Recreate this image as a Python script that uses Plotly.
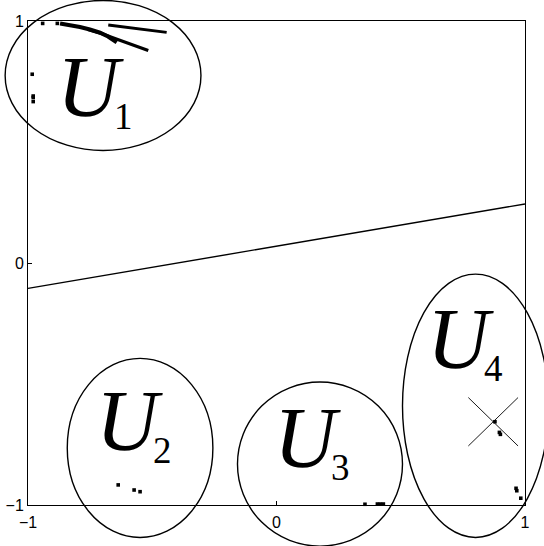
import plotly.graph_objects as go

# Separating line y = a*x + b, drawn across the square
line_x = [-1.0, 1.0]
line_y = [-0.105, 0.244]

# Sample points (dense arcs near the top-left corner)
arc_a_x = [-0.871, -0.831, -0.791, -0.751, -0.710, -0.678, -0.643]
arc_a_y = [0.990, 0.984, 0.975, 0.965, 0.952, 0.936, 0.912]
arc_b_x = [-0.759, -0.710, -0.650, -0.590, -0.516]
arc_b_y = [0.965, 0.950, 0.928, 0.905, 0.878]
arc_c_x = [-0.677, -0.561, -0.442]
arc_c_y = [0.983, 0.969, 0.953]

# Isolated sample points
dot_x = [-0.941, -0.882, -0.983, -0.979, -0.979, -0.979,
         -0.637, -0.573, -0.549,
         0.356, 0.406, 0.418, 0.430,
         0.879, 0.897, 0.901, 0.964, 0.967, 0.983]
dot_y = [0.990, 0.990, 0.780, 0.690, 0.684, 0.667,
         -0.917, -0.938, -0.945,
         -0.997, -0.996, -0.996, -0.996,
         -0.656, -0.700, -0.708, -0.931, -0.941, -0.972]

# Marked point (cross) and its half size
cross_x = 0.872
cross_y = -0.656
cross_half = 0.10

# Regions U1..U4: centre and semi-axes in data units
region_names = ["1", "2", "3", "4"]
region_cx = [-0.698, -0.549, 0.175, 0.801]
region_cy = [0.775, -0.764, -0.831, -0.590]
region_rx = [0.394, 0.293, 0.332, 0.294]
region_ry = [0.310, 0.370, 0.339, 0.544]

# Label anchor points for the region names
label_x = [-0.730, -0.574, 0.144, 0.759]
label_y = [0.722, -0.657, -0.726, -0.319]

tick_vals = [-1, 0, 1]
tick_text = ["\u22121", "0", "1"]

fig = go.Figure()

fig.add_trace(go.Scatter(x=line_x, y=line_y, mode="lines",
                         line=dict(color="black", width=1.4), hoverinfo="skip"))

for ax_, ay_, w in [(arc_a_x, arc_a_y, 4.0), (arc_b_x, arc_b_y, 3.2), (arc_c_x, arc_c_y, 3.0)]:
    fig.add_trace(go.Scatter(x=ax_, y=ay_, mode="lines",
                             line=dict(color="black", width=w),
                             hoverinfo="skip"))

fig.add_trace(go.Scatter(x=dot_x, y=dot_y, mode="markers",
                         marker=dict(color="black", size=3.6, symbol="square"),
                         cliponaxis=False, hoverinfo="skip"))

fig.add_trace(go.Scatter(
    x=[cross_x - cross_half, cross_x + cross_half, None, cross_x - cross_half, cross_x + cross_half],
    y=[cross_y + cross_half, cross_y - cross_half, None, cross_y - cross_half, cross_y + cross_half],
    mode="lines", line=dict(color="black", width=0.9), hoverinfo="skip"))


def to_paper(v):
    # axis range is [-1, 1] on both axes, domain [0, 1]
    return (v + 1.0) / 2.0


shapes = []
for cx, cy, rx, ry in zip(region_cx, region_cy, region_rx, region_ry):
    shapes.append(dict(type="circle", xref="paper", yref="paper",
                       x0=to_paper(cx - rx), x1=to_paper(cx + rx),
                       y0=to_paper(cy - ry), y1=to_paper(cy + ry),
                       line=dict(color="black", width=1.4), layer="above"))

# Italic "U" followed by a smaller, lowered index tucked under its right arm
annotations = []
for name, lx, ly in zip(region_names, label_x, label_y):
    annotations.append(dict(
        x=lx, y=ly, xref="x", yref="y",
        text=("<span style='font-style:italic;letter-spacing:-5px'>U</span>"
              "<span style='font-size:37px;baseline-shift:-13px'>" + name + "</span>"),
        showarrow=False, xanchor="center", yanchor="middle",
        font=dict(family="Liberation Serif", size=86, color="black")))

axis_common = dict(range=[-1, 1], tickvals=tick_vals, ticktext=tick_text,
                   ticks="inside", ticklen=4, tickcolor="black", tickwidth=1,
                   showline=True, linecolor="black", linewidth=1, mirror=True,
                   showgrid=False, zeroline=False, automargin=False,
                   tickfont=dict(family="Liberation Sans", size=16, color="black"))

fig.update_layout(
    width=544, height=546,
    margin=dict(l=28, r=19, t=21, b=41),
    paper_bgcolor="white", plot_bgcolor="white",
    showlegend=False,
    xaxis=dict(**axis_common, ticklabelstandoff=3),
    yaxis=dict(**axis_common),
    shapes=shapes, annotations=annotations,
)

fig.write_html("out.html")
